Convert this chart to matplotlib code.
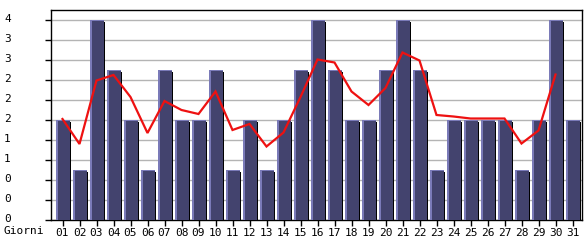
import matplotlib
matplotlib.use("Agg")
import matplotlib.pyplot as plt
import matplotlib.transforms as mtransforms
import numpy as np

plt.rcParams["font.family"] = ["DejaVu Sans Mono"]

days = ["01", "02", "03", "04", "05", "06", "07", "08", "09", "10",
        "11", "12", "13", "14", "15", "16", "17", "18", "19", "20",
        "21", "22", "23", "24", "25", "26", "27", "28", "29", "30", "31"]
values = [2, 1, 4, 3, 2, 1, 3, 2, 2, 3,
          1, 2, 1, 2, 3, 4, 3, 2, 2, 3,
          4, 3, 1, 2, 2, 2, 2, 1, 2, 4, 2]
trend = [2.02, 1.52, 2.79, 2.90, 2.46, 1.74, 2.38, 2.20, 2.12, 2.57,
         1.80, 1.92, 1.47, 1.75, 2.46, 3.21, 3.15, 2.57, 2.30, 2.64,
         3.35, 3.19, 2.10, 2.07, 2.03, 2.03, 2.03, 1.53, 1.79, 2.91]
ytick_values = [0.0, 0.4, 0.8, 1.2, 1.6, 2.0, 2.4, 2.8, 3.2, 3.6, 4.0]
ytick_labels = [str(int(v)) for v in ytick_values]
xlabel_text = "Giorni"

W, H = 585, 240
fig = plt.figure(figsize=(W / 100, H / 100), dpi=100)
ax_l, ax_r, ax_b, ax_t = 51, 582, 20, 230  # pixel coords (bottom-origin)
ax = fig.add_axes([ax_l / W, ax_b / H, (ax_r - ax_l) / W, (ax_t - ax_b) / H])

x = np.arange(1, len(days) + 1)
slot = 17.0
px = 1.0 / slot
ymax = 4.2
py = ymax / (ax_t - ax_b)

xmin = 1 - 11.5 * px
xmax = xmin + (ax_r - ax_l) * px
ax.set_xlim(xmin, xmax)
ax.set_ylim(0, ymax)

dark = "#43436e"
light = "#7a7ab8"

# shadow
ax.bar(x + 7.5 * px, [v - 2 * py for v in values], width=2 * px, color="black",
       align="center", zorder=2, linewidth=0)
# light base (edge)
ax.bar(x + 0.25 * px, values, width=13.5 * px, color=light, zorder=3, linewidth=0)
# dark body
ax.bar(x + 1.0 * px, [v - 1 * py for v in values], width=12 * px, color=dark,
       zorder=4, linewidth=0)

ax.plot(x[:len(trend)], trend, color="#ee1111", linewidth=1.6, zorder=5,
        solid_joinstyle="miter")

ax.set_yticks(ytick_values)
ax.set_yticklabels(ytick_labels)
ax.set_xticks(x)
ax.set_xticklabels(days)
ax.yaxis.grid(True, color="#b4b4b4", linewidth=1.0, zorder=0)
ax.set_axisbelow(True)

ax.tick_params(axis="y", length=4, width=1, pad=25, labelsize=8, colors="black")
ax.tick_params(axis="x", length=4, width=1, pad=2, labelsize=8, colors="black")
for s in ax.spines.values():
    s.set_linewidth(1.0)
    s.set_color("black")

shift = mtransforms.ScaledTranslation(0, 2 / 100, fig.dpi_scale_trans)
for lbl in ax.get_yticklabels():
    lbl.set_transform(lbl.get_transform() + shift)

fig.text(3 / W, 1 - 231.5 / H, xlabel_text, fontsize=8, va="center", ha="left")

fig.savefig("out.png", dpi=100)
